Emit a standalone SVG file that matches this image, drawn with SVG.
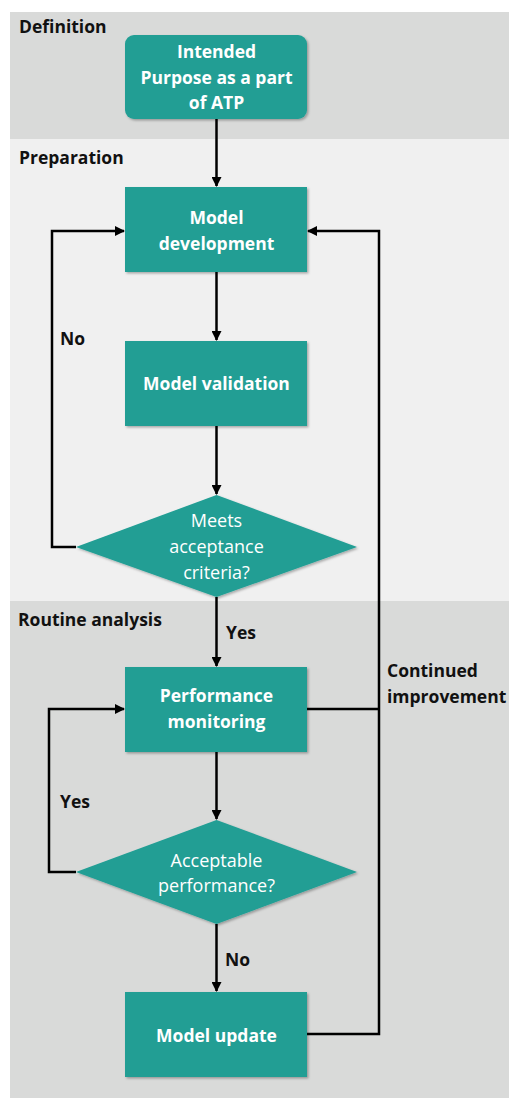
<svg xmlns="http://www.w3.org/2000/svg" width="509" height="1098" viewBox="0 0 509 1098">
  <style>
    .band-dark { fill: #d9dad9; }
    .band-light { fill: #f0f0f0; }
    .section { font-family: "Open Sans", "Liberation Sans", sans-serif; font-weight: 700; font-size: 17.5px; fill: #111; }
    .node { fill: #209e94; filter: url(#shadow); }
    .ntext { font-family: "Open Sans", "Liberation Sans", sans-serif; font-weight: 700; font-size: 17.5px; fill: #ffffff; text-anchor: middle; }
    .dtext { font-family: "Open Sans", "Liberation Sans", sans-serif; font-weight: 400; font-size: 18px; fill: #ffffff; text-anchor: middle; }
    .edge { fill: none; stroke: #000; stroke-width: 2.5; }
    .elabel { font-family: "Open Sans", "Liberation Sans", sans-serif; font-weight: 700; font-size: 17.5px; fill: #111; }
  </style>
  <defs>
    <marker id="arrow" viewBox="0 0 10 10" refX="9" refY="5" markerWidth="4" markerHeight="4" orient="auto" markerUnits="strokeWidth">
      <path d="M0,0 L10,5 L0,10 z" fill="#000"/>
    </marker>
    <filter id="shadow" x="-10%" y="-10%" width="125%" height="125%">
      <feDropShadow dx="1.5" dy="1.5" stdDeviation="1.2" flood-color="#000" flood-opacity="0.3"/>
    </filter>
  </defs>

  <!-- phase bands -->
  <g id="bands">
    <rect class="band-dark" x="10" y="12" width="499" height="127"/>
    <rect class="band-light" x="10" y="139" width="499" height="462"/>
    <rect class="band-dark" x="10" y="601" width="499" height="497"/>
    <text class="section" x="19" y="33">Definition</text>
    <text class="section" x="19" y="164">Preparation</text>
    <text class="section" x="18" y="626">Routine analysis</text>
  </g>

  <!-- connectors -->
  <g id="connectors">
    <path class="edge" d="M216.5,119 V186" marker-end="url(#arrow)"/>
    <path class="edge" d="M216.5,272 V340" marker-end="url(#arrow)"/>
    <path class="edge" d="M216.5,426 V494" marker-end="url(#arrow)"/>
    <path class="edge" d="M76,547 H52 V231 H124" marker-end="url(#arrow)"/>
    <path class="edge" d="M216.5,597 V666" marker-end="url(#arrow)"/>
    <path class="edge" d="M216.5,752 V819" marker-end="url(#arrow)"/>
    <path class="edge" d="M76,872 H49 V709 H124" marker-end="url(#arrow)"/>
    <path class="edge" d="M216.5,924 V991" marker-end="url(#arrow)"/>
    <path class="edge" d="M307,709 H379"/>
    <path class="edge" d="M307,1034 H379 V231 H308" marker-end="url(#arrow)"/>
    <text class="elabel" x="60" y="345">No</text>
    <text class="elabel" x="226" y="639">Yes</text>
    <text class="elabel" x="60" y="808">Yes</text>
    <text class="elabel" x="225" y="966">No</text>
    <text class="elabel" x="387" y="677">Continued</text>
    <text class="elabel" x="387" y="703">improvement</text>
  </g>

  <g id="intended-purpose">
    <rect class="node" x="125" y="35" width="182" height="84" rx="9"/>
    <text class="ntext" x="216.5" y="58">Intended</text>
    <text class="ntext" x="216.5" y="84">Purpose as a part</text>
    <text class="ntext" x="216.5" y="109">of ATP</text>
  </g>

  <g id="model-development">
    <rect class="node" x="125" y="187" width="182" height="85"/>
    <text class="ntext" x="216.5" y="224">Model</text>
    <text class="ntext" x="216.5" y="250">development</text>
  </g>

  <g id="model-validation">
    <rect class="node" x="125" y="341" width="182" height="85"/>
    <text class="ntext" x="216.5" y="390">Model validation</text>
  </g>

  <g id="meets-acceptance">
    <polygon class="node" points="216.5,495 357,547 216.5,597 76,547"/>
    <text class="dtext" x="216.5" y="527">Meets</text>
    <text class="dtext" x="216.5" y="553">acceptance</text>
    <text class="dtext" x="216.5" y="579">criteria?</text>
  </g>

  <g id="performance-monitoring">
    <rect class="node" x="125" y="667" width="182" height="85"/>
    <text class="ntext" x="216.5" y="702">Performance</text>
    <text class="ntext" x="216.5" y="728">monitoring</text>
  </g>

  <g id="acceptable-performance">
    <polygon class="node" points="216.5,820 357,872 216.5,924 76,872"/>
    <text class="dtext" x="216.5" y="867">Acceptable</text>
    <text class="dtext" x="216.5" y="892">performance?</text>
  </g>

  <g id="model-update">
    <rect class="node" x="125" y="992" width="182" height="85"/>
    <text class="ntext" x="216.5" y="1042">Model update</text>
  </g>
</svg>
